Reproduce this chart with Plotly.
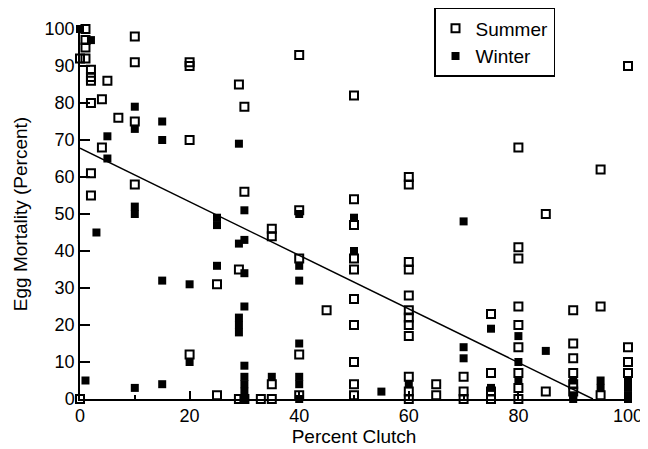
import plotly.graph_objects as go

summer_x = [0, 1, 1, 1, 0, 1, 2, 2, 2, 5, 2, 4, 10, 10, 20, 20, 7, 10, 20, 4, 2, 10, 2, 20,
            40, 29, 30, 30, 40, 35, 35, 40, 29, 25, 45, 40, 35, 25, 29, 30, 33, 35, 40,
            50, 60, 60, 50, 50, 50, 50, 60, 60, 50, 60, 60, 60, 60, 60, 50, 50, 50, 50, 60, 60, 60, 65, 65,
            100, 80, 95, 85, 80, 80, 80, 90, 95, 75, 80, 80, 90, 90, 100, 100, 100, 80, 80, 75, 75, 70, 70,
            85, 90, 90, 90, 95, 80, 70, 75]
summer_y = [0, 100, 97, 95, 92, 92, 89, 87, 86, 86, 80, 81, 98, 91, 91, 90, 76, 75, 70, 68, 61, 58, 55, 12,
            93, 85, 79, 56, 51, 46, 44, 38, 35, 31, 24, 12, 4, 1, 0, 0, 0, 0, 1,
            82, 60, 58, 54, 47, 38, 35, 37, 35, 27, 28, 24, 22, 20, 17, 20, 10, 4, 1, 6, 2, 0, 4, 1,
            90, 68, 62, 50, 41, 38, 25, 24, 25, 23, 20, 14, 15, 11, 14, 10, 7, 7, 3, 7, 2, 6, 2,
            2, 7, 4, 2, 1, 0, 0, 0]

winter_x = [0, 2, 10, 10, 15, 15, 5, 5, 10, 10, 3, 15, 20, 20, 1, 10, 15,
            29, 30, 40, 25, 25, 30, 29, 40, 40, 25, 30, 30, 29, 29, 29, 40, 30, 30, 30, 30, 35, 40, 40, 30, 40,
            50, 50, 55, 60,
            70, 75, 80, 70, 70, 85, 100, 100, 100, 80, 75, 90, 90, 95, 95, 80, 100, 90]
winter_y = [100, 97, 79, 73, 75, 70, 71, 65, 52, 50, 45, 32, 31, 10, 5, 3, 4,
            69, 51, 50, 49, 47, 43, 42, 36, 32, 36, 34, 25, 22, 20, 18, 15, 9, 6, 4, 2, 6, 6, 4, 0, 0,
            49, 40, 2, 4,
            48, 19, 17, 14, 11, 13, 5, 3, 1, 10, 3, 5, 1, 5, 3, 5, 0, 0]

fit_x = [0, 93.6]
fit_y = [67.8, 0]

x_ticks = [0, 20, 40, 60, 80, 100]
y_ticks = [0, 10, 20, 30, 40, 50, 60, 70, 80, 90, 100]

font = "Liberation Sans, Arial, Helvetica, sans-serif"

fig = go.Figure()
fig.add_trace(go.Scatter(x=fit_x, y=fit_y, mode="lines",
                         line=dict(color="black", width=1.5), showlegend=False,
                         hoverinfo="skip", cliponaxis=False))
fig.add_trace(go.Scatter(x=summer_x, y=summer_y, mode="markers", name="Summer",
                         marker=dict(symbol="square-open", size=8, color="black",
                                     line=dict(width=2, color="black")),
                         cliponaxis=False))
fig.add_trace(go.Scatter(x=winter_x, y=winter_y, mode="markers", name="Winter",
                         marker=dict(symbol="square", size=8, color="black",
                                     line=dict(width=0)),
                         cliponaxis=False))

fig.update_layout(
    width=640, height=441,
    margin=dict(l=72, r=20, t=21, b=50, autoexpand=False),
    paper_bgcolor="white", plot_bgcolor="white",
    font=dict(family=font, size=18, color="black"),
    legend=dict(x=0.646, y=1.057, xanchor="left", yanchor="top",
                bordercolor="black", borderwidth=1.5, bgcolor="rgba(0,0,0,0)",
                font=dict(size=19, color="black"), tracegroupgap=0),
    xaxis=dict(range=[0, 100], tickvals=x_ticks, showgrid=False, zeroline=False,
               showline=True, linecolor="black", linewidth=1.5, automargin=False,
               ticks="inside", ticklen=8, tickwidth=1.5, tickcolor="black",
               minor=dict(ticks="inside", ticklen=4, dtick=10, tickcolor="black"),
               title=dict(text="Percent Clutch", standoff=0,
                          font=dict(size=19, color="black")),
               tickfont=dict(size=18, color="black")),
    yaxis=dict(range=[0, 100], tickvals=y_ticks, showgrid=False, zeroline=False,
               showline=True, linecolor="black", linewidth=1.5, automargin=False,
               ticks="inside", ticklen=10, tickwidth=1.5, tickcolor="black",
               title=dict(text="Egg Mortality (Percent)", standoff=12,
                          font=dict(size=19, color="black")),
               tickfont=dict(size=18, color="black")),
)

fig.write_html("out.html")
